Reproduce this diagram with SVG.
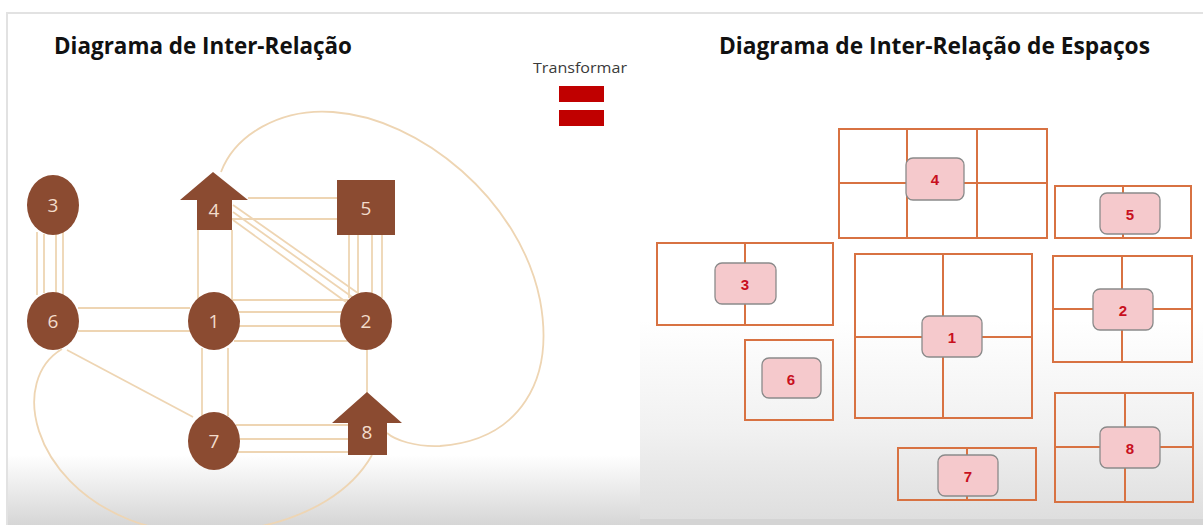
<svg xmlns="http://www.w3.org/2000/svg" width="1203" height="525" viewBox="0 0 1203 525">
  <defs>
    <linearGradient id="fadeLeft" x1="0" y1="0" x2="0" y2="1">
      <stop offset="0" stop-color="#ffffff"/>
      <stop offset="1" stop-color="#d6d6d6"/>
    </linearGradient>
    <linearGradient id="fadeRight" x1="0" y1="0" x2="0" y2="1">
      <stop offset="0" stop-color="#ffffff"/>
      <stop offset="0.55" stop-color="#f1f1f1"/>
      <stop offset="1" stop-color="#dedede"/>
    </linearGradient>
  </defs>
  <style>
    .title { font-family: "Open Sans", "Liberation Sans", sans-serif; font-weight: 700; font-size: 23px; fill: #111111; }
    .caption { font-family: "Open Sans", "Liberation Sans", sans-serif; font-size: 14px; fill: #3a3a3a; }
    .node { fill: #8b4b31; }
    .nlabel { font-family: "Open Sans", "Liberation Sans", sans-serif; font-size: 19px; fill: #f3dccb; text-anchor: middle; dominant-baseline: central; }
    .link { stroke: #eed5b3; stroke-width: 1.8; fill: none; }
    .cell { fill: none; stroke: #d87242; stroke-width: 2; }
    .tag { fill: #f5c9cc; stroke: #8a8a8a; stroke-width: 1.3; }
    .tlabel { font-family: "Liberation Sans", Arial, sans-serif; font-weight: 700; font-size: 15px; fill: #c81020; text-anchor: middle; dominant-baseline: central; }
    .bar { fill: #c00000; }
  </style>

  <!-- page background and frame -->
  <rect x="0" y="0" width="1203" height="525" fill="#ffffff"/>
  <rect x="8" y="455" width="632" height="70" fill="url(#fadeLeft)"/>
  <rect x="640" y="320" width="563" height="200" fill="url(#fadeRight)"/>
  <rect x="640" y="519" width="563" height="6" fill="#d4d4d4"/>
  <path d="M7 525 V13 H1203" fill="none" stroke="#e2e2e2" stroke-width="2"/>

  <!-- headings -->
  <text class="title" x="54" y="54" textLength="298" lengthAdjust="spacingAndGlyphs">Diagrama de Inter-Relação</text>
  <text class="title" x="719" y="54" textLength="431" lengthAdjust="spacingAndGlyphs">Diagrama de Inter-Relação de Espaços</text>

  <!-- "equals" transform sign -->
  <g id="transform">
    <text class="caption" x="533" y="73" textLength="94" lengthAdjust="spacingAndGlyphs">Transformar</text>
    <rect class="bar" x="559" y="86" width="45" height="16"/>
    <rect class="bar" x="559" y="110" width="45" height="16"/>
  </g>

  <!-- relation lines between activities -->
  <g id="connectors">
    <!-- 3 - 6 -->
    <line class="link" x1="37" y1="232" x2="37" y2="295"/>
    <line class="link" x1="44" y1="234" x2="44" y2="293"/>
    <line class="link" x1="56" y1="234" x2="56" y2="293"/>
    <line class="link" x1="63" y1="232" x2="63" y2="295"/>
    <!-- 6 - 1 -->
    <line class="link" x1="78" y1="308" x2="190" y2="308"/>
    <line class="link" x1="78" y1="331" x2="190" y2="331"/>
    <!-- 1 - 4 -->
    <line class="link" x1="198" y1="230" x2="198" y2="300"/>
    <line class="link" x1="232" y1="230" x2="232" y2="300"/>
    <!-- 4 - 5 -->
    <line class="link" x1="248" y1="198" x2="337" y2="198"/>
    <line class="link" x1="232" y1="219" x2="337" y2="219"/>
    <!-- 4 - 2 -->
    <line class="link" x1="233" y1="205" x2="362" y2="296"/>
    <line class="link" x1="233" y1="212" x2="355" y2="299"/>
    <line class="link" x1="233" y1="220" x2="346" y2="302"/>
    <!-- 5 - 2 -->
    <line class="link" x1="349" y1="235" x2="349" y2="298"/>
    <line class="link" x1="358" y1="235" x2="358" y2="293"/>
    <line class="link" x1="372" y1="235" x2="372" y2="293"/>
    <line class="link" x1="382" y1="235" x2="382" y2="298"/>
    <!-- 1 - 2 -->
    <line class="link" x1="232" y1="300" x2="348" y2="300"/>
    <line class="link" x1="238" y1="312" x2="342" y2="312"/>
    <line class="link" x1="238" y1="326" x2="342" y2="326"/>
    <line class="link" x1="234" y1="341" x2="347" y2="341"/>
    <!-- 1 - 7 -->
    <line class="link" x1="202" y1="348" x2="202" y2="416"/>
    <line class="link" x1="228" y1="348" x2="228" y2="416"/>
    <!-- 2 - 8 -->
    <line class="link" x1="367" y1="349" x2="367" y2="393"/>
    <!-- 7 - 8 -->
    <line class="link" x1="236" y1="425" x2="348" y2="425"/>
    <line class="link" x1="240" y1="439" x2="348" y2="439"/>
    <line class="link" x1="236" y1="452" x2="348" y2="452"/>
    <!-- 6 - 7 -->
    <line class="link" x1="67" y1="350" x2="193" y2="417"/>
    <!-- 6 - 8 loop -->
    <path class="link" d="M62 349 C10 380 30 480 130 520 C200 548 330 530 372 455"/>
    <!-- 4 - 8 loop -->
    <path class="link" d="M221 172 C235 135 280 108 333 112 C420 118 520 200 540 300 C555 380 520 440 440 446 C415 447 395 440 387 433"/>
  </g>

  <!-- activity nodes -->
  <g id="n3"><ellipse class="node" cx="53" cy="205" rx="26" ry="30"/><text class="nlabel" x="53" y="205">3</text></g>
  <g id="n6"><ellipse class="node" cx="53" cy="321" rx="26" ry="29"/><text class="nlabel" x="53" y="321">6</text></g>
  <g id="n1"><ellipse class="node" cx="214" cy="321" rx="26" ry="29"/><text class="nlabel" x="214" y="321">1</text></g>
  <g id="n2"><ellipse class="node" cx="366" cy="321" rx="26" ry="29"/><text class="nlabel" x="366" y="321">2</text></g>
  <g id="n7"><ellipse class="node" cx="214" cy="441" rx="26" ry="29"/><text class="nlabel" x="214" y="441">7</text></g>
  <g id="n4"><polygon class="node" points="213,172 248,200 232,200 232,230 197,230 197,200 180,200"/><text class="nlabel" x="214" y="210">4</text></g>
  <g id="n5"><rect class="node" x="337" y="180" width="58" height="55"/><text class="nlabel" x="366" y="208">5</text></g>
  <g id="n8"><polygon class="node" points="367,392 402,423 387,423 387,455 348,455 348,423 332,423"/><text class="nlabel" x="367" y="432">8</text></g>

  <!-- space layout -->
  <g id="room4">
    <rect class="cell" x="839" y="129" width="68" height="54"/>
    <rect class="cell" x="907" y="129" width="70" height="54"/>
    <rect class="cell" x="977" y="129" width="70" height="54"/>
    <rect class="cell" x="839" y="183" width="68" height="55"/>
    <rect class="cell" x="907" y="183" width="70" height="55"/>
    <rect class="cell" x="977" y="183" width="70" height="55"/>
    <rect class="tag" x="906" y="158" width="58" height="42" rx="7"/>
    <text class="tlabel" x="935" y="179">4</text>
  </g>
  <g id="room5">
    <rect class="cell" x="1055" y="186" width="68" height="52"/>
    <rect class="cell" x="1123" y="186" width="68" height="52"/>
    <rect class="tag" x="1100" y="193" width="60" height="41" rx="7"/>
    <text class="tlabel" x="1130" y="214">5</text>
  </g>
  <g id="room3">
    <rect class="cell" x="657" y="243" width="88" height="82"/>
    <rect class="cell" x="745" y="243" width="88" height="82"/>
    <rect class="tag" x="715" y="263" width="61" height="41" rx="7"/>
    <text class="tlabel" x="745" y="284">3</text>
  </g>
  <g id="room1">
    <rect class="cell" x="855" y="254" width="88" height="83"/>
    <rect class="cell" x="943" y="254" width="89" height="83"/>
    <rect class="cell" x="855" y="337" width="88" height="81"/>
    <rect class="cell" x="943" y="337" width="89" height="81"/>
    <rect class="tag" x="922" y="316" width="60" height="41" rx="7"/>
    <text class="tlabel" x="952" y="337">1</text>
  </g>
  <g id="room2">
    <rect class="cell" x="1053" y="256" width="69" height="53"/>
    <rect class="cell" x="1122" y="256" width="70" height="53"/>
    <rect class="cell" x="1053" y="309" width="69" height="53"/>
    <rect class="cell" x="1122" y="309" width="70" height="53"/>
    <rect class="tag" x="1093" y="289" width="60" height="41" rx="7"/>
    <text class="tlabel" x="1123" y="310">2</text>
  </g>
  <g id="room6">
    <rect class="cell" x="745" y="340" width="88" height="80"/>
    <rect class="tag" x="762" y="358" width="59" height="40" rx="7"/>
    <text class="tlabel" x="791" y="379">6</text>
  </g>
  <g id="room8">
    <rect class="cell" x="1055" y="393" width="70" height="54"/>
    <rect class="cell" x="1125" y="393" width="68" height="54"/>
    <rect class="cell" x="1055" y="447" width="70" height="55"/>
    <rect class="cell" x="1125" y="447" width="68" height="55"/>
    <rect class="tag" x="1100" y="427" width="60" height="41" rx="7"/>
    <text class="tlabel" x="1130" y="448">8</text>
  </g>
  <g id="room7">
    <rect class="cell" x="898" y="448" width="69" height="52"/>
    <rect class="cell" x="967" y="448" width="69" height="52"/>
    <rect class="tag" x="938" y="455" width="60" height="41" rx="7"/>
    <text class="tlabel" x="968" y="476">7</text>
  </g>
</svg>
